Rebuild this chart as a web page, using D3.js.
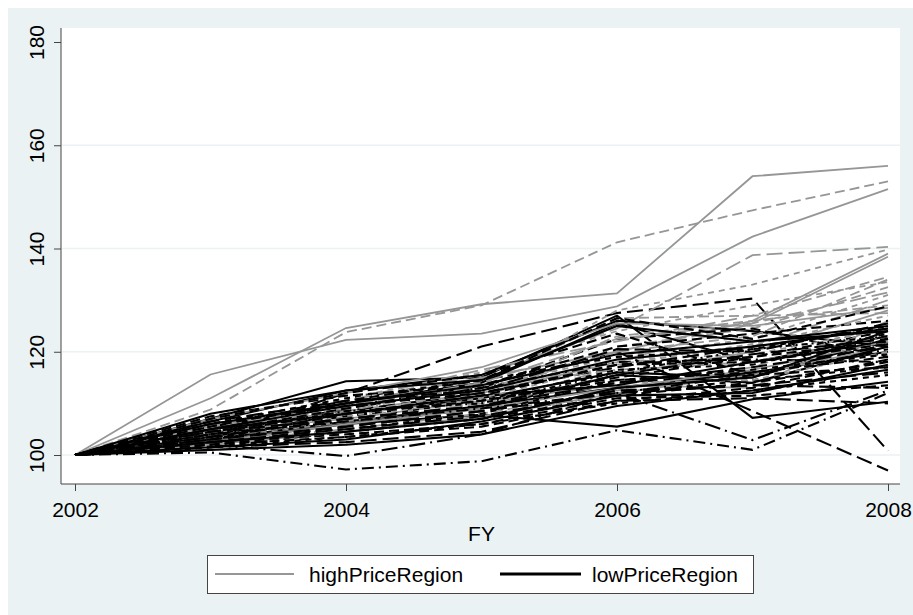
<!DOCTYPE html>
<html>
<head>
<meta charset="utf-8">
<script src="https://cdn.jsdelivr.net/npm/d3@7"></script>
<style>
  body { margin: 0; background: #fff; }
  text { font-family: "Liberation Sans", Arial, sans-serif; }
</style>
</head>
<body>
<div id="chart"></div>
<script>
const years = [2002, 2003, 2004, 2005, 2006, 2007, 2008];
const xTicks = [2002, 2004, 2006, 2008];
const yTicks = [100, 120, 140, 160, 180];
const groups = ["highPriceRegion", "lowPriceRegion"];

// index values per region (2002 = 100)
const highPriceRegion = [
  [100, 115.6, 122.3, 123.5, 128.8, 142.3, 151.5],
  [100, 111.0, 124.6, 129.2, 131.3, 154.0, 156.0],
  [100, 108.8, 123.8, 129.0, 141.2, 147.4, 153.0],
  [100, 106.5, 110.5, 115.5, 124.5, 138.7, 140.3],
  [100, 105.5, 109.5, 113.5, 128.0, 133.0, 139.8],
  [100, 106.0, 110.0, 115.0, 120.0, 126.0, 139.0],
  [100, 105.0, 108.5, 112.0, 118.0, 125.5, 138.4],
  [100, 104.5, 109.0, 114.0, 126.5, 127.0, 134.5],
  [100, 106.0, 111.0, 116.0, 124.0, 129.0, 133.5],
  [100, 104.0, 107.5, 111.5, 121.0, 124.5, 132.5],
  [100, 105.0, 109.0, 113.0, 119.0, 122.5, 131.0],
  [100, 103.5, 106.5, 110.0, 117.0, 121.0, 130.0],
  [100, 104.0, 108.0, 112.0, 123.0, 126.0, 129.0],
  [100, 103.0, 106.0, 109.5, 115.5, 120.0, 128.0],
  [100, 104.5, 107.0, 110.5, 113.5, 113.0, 126.0],
  [100, 102.5, 105.0, 108.0, 112.5, 117.0, 125.5],
  [100, 103.5, 107.5, 111.5, 118.5, 119.5, 124.5],
  [100, 105.5, 110.5, 116.5, 122.0, 127.0, 127.5],
  [100, 102.0, 104.5, 107.5, 112.0, 115.5, 121.0],
  [100, 104.0, 108.5, 113.5, 116.5, 118.0, 123.0],
  [100, 103.0, 106.5, 110.0, 114.0, 114.5, 120.0],
  [100, 107.0, 112.0, 117.0, 125.5, 125.0, 128.5],
  [100, 104.5, 108.0, 112.5, 120.0, 123.0, 134.0],
  [100, 103.0, 107.0, 111.0, 117.5, 121.5, 127.0],
  [100, 105.5, 109.5, 114.0, 122.5, 125.5, 131.5],
  [100, 102.5, 106.0, 109.0, 113.0, 116.5, 122.0]
];
const highPatterns = ["solid", "solid", "dash", "longdash", "shortdash", "solid", "solid", "dash",
  "shortdash", "dash", "shortdash", "longdash", "dash", "solid", "solid", "dash", "shortdash",
  "longdash", "solid", "dashdot", "shortdash", "solid", "dash", "shortdash", "longdash", "solid"];

const lowPriceRegion = [
  [100, 103.5, 112.0, 121.0, 127.5, 130.3, 100.8],
  [100, 107.0, 114.3, 115.0, 127.0, 107.2, 110.3],
  [100, 104.0, 109.0, 113.5, 120.0, 108.5, 97.0],
  [100, 100.5, 97.2, 98.8, 104.8, 101.0, 112.0],
  [100, 102.0, 99.8, 104.0, 112.0, 102.9, 112.5],
  [100, 103.0, 106.0, 107.8, 105.5, 110.8, 114.2],
  [100, 102.5, 104.0, 106.0, 111.0, 111.5, 113.5],
  [100, 101.5, 102.5, 104.5, 110.5, 111.0, 110.0],
  [100, 106.5, 112.5, 115.5, 126.0, 124.0, 121.0],
  [100, 105.0, 110.0, 114.0, 125.5, 118.0, 123.0],
  [100, 104.5, 109.0, 113.0, 122.5, 124.5, 119.0],
  [100, 103.5, 108.0, 111.0, 116.0, 115.0, 122.5],
  [100, 104.0, 107.5, 110.5, 115.0, 119.0, 124.0],
  [100, 102.0, 105.5, 108.5, 114.0, 115.5, 121.5],
  [100, 106.0, 111.0, 114.5, 119.0, 120.5, 125.0],
  [100, 103.0, 106.5, 109.5, 113.0, 116.0, 120.0],
  [100, 105.5, 109.5, 113.0, 118.0, 118.5, 118.0],
  [100, 101.5, 104.5, 107.5, 112.0, 114.5, 117.0],
  [100, 104.5, 108.5, 112.0, 117.0, 121.0, 124.5],
  [100, 102.5, 106.0, 109.0, 115.5, 114.0, 121.0],
  [100, 107.5, 111.5, 113.5, 121.0, 123.5, 126.0],
  [100, 103.0, 107.0, 110.5, 116.5, 117.5, 123.5],
  [100, 105.0, 108.0, 111.5, 113.5, 118.0, 122.0],
  [100, 102.0, 103.5, 105.5, 110.5, 113.0, 118.5],
  [100, 106.5, 110.5, 112.5, 120.5, 120.0, 125.5],
  [100, 104.0, 106.5, 109.0, 112.0, 115.5, 120.5],
  [100, 101.5, 103.0, 106.5, 111.5, 112.0, 117.5],
  [100, 105.5, 110.5, 114.5, 126.5, 122.5, 128.8],
  [100, 103.5, 105.0, 108.0, 114.5, 116.5, 119.5],
  [100, 104.5, 107.0, 109.5, 115.5, 119.5, 122.5],
  [100, 102.5, 104.5, 107.0, 113.0, 115.0, 124.0],
  [100, 106.0, 109.5, 112.0, 117.5, 118.0, 121.5],
  [100, 103.0, 105.5, 108.5, 112.0, 113.5, 113.0],
  [100, 107.0, 112.0, 115.5, 123.5, 115.5, 117.0],
  [100, 104.0, 108.5, 110.0, 116.0, 120.5, 123.0],
  [100, 101.0, 102.0, 104.0, 109.5, 112.5, 116.5],
  [100, 102.0, 104.5, 107.0, 111.5, 114.0, 118.0],
  [100, 103.5, 107.0, 109.5, 114.0, 117.0, 121.0],
  [100, 105.0, 109.5, 112.5, 118.5, 121.0, 124.5],
  [100, 101.5, 103.5, 106.0, 110.0, 112.5, 115.5],
  [100, 104.5, 108.0, 110.5, 114.5, 116.0, 119.0],
  [100, 106.0, 110.0, 113.5, 119.5, 122.0, 125.0],
  [100, 102.5, 105.0, 107.5, 112.5, 113.5, 116.0],
  [100, 103.0, 108.0, 111.5, 117.5, 119.0, 122.0],
  [100, 108.0, 112.5, 114.5, 125.0, 122.0, 124.0]
];
const lowPatterns = ["longdash", "solid", "longdash", "dashdot", "longdashdot", "solid", "dash",
  "longdash", "solid", "solid", "dash", "solid", "dash", "longdash", "shortdash", "solid", "dashdot",
  "shortdash", "longdash", "solid", "dash", "shortdash", "solid", "dash", "longdash", "dashdot",
  "solid", "dash", "shortdash", "longdash", "solid", "dash", "longdash", "dash", "shortdashdot",
  "solid", "dash", "longdash", "solid", "shortdash", "dash", "solid", "longdash", "dash", "solid"];

const dashes = {
  solid: null,
  dash: "10,5",
  longdash: "16,6",
  shortdash: "6,5",
  dashdot: "12,5,2,5",
  longdashdot: "16,5,2,5",
  shortdashdot: "6,4,2,4"
};

const W = 913, H = 615;
const plot = {left: 61, right: 900, top: 28, bottom: 484};
const grayCol = "#969696";

const svg = d3.select("#chart").append("svg")
    .attr("width", W)
    .attr("height", H);

svg.append("rect")
    .attr("x", 8).attr("y", 8)
    .attr("width", W - 8).attr("height", H - 8)
    .attr("fill", "#eaf2f3");

svg.append("rect")
    .attr("x", plot.left).attr("y", plot.top)
    .attr("width", plot.right - plot.left).attr("height", plot.bottom - plot.top)
    .attr("fill", "#fff");

const x = d3.scaleLinear().domain([2002, 2008]).range([75, 888]);
const y = d3.scaleLinear().domain([100, 180]).range([455, 42]);

// gridlines
svg.append("g")
    .selectAll("line")
    .data(yTicks.filter(d => d < 180))
    .enter()
    .append("line")
    .attr("x1", plot.left + 1).attr("x2", plot.right)
    .attr("y1", d => y(d)).attr("y2", d => y(d))
    .attr("stroke", "#eaf2f3")
    .attr("stroke-width", 1.5);

// series, interleaved so the colours mix like the original
const series = [];
const n = Math.max(highPriceRegion.length, lowPriceRegion.length);
for (let i = 0; i < n; i++) {
    if (i < highPriceRegion.length) series.push({group: 0, vals: highPriceRegion[i], pat: highPatterns[i]});
    if (i < lowPriceRegion.length) series.push({group: 1, vals: lowPriceRegion[i], pat: lowPatterns[i]});
}

const line = d3.line()
    .x((d, i) => x(years[i]))
    .y(d => y(d));

svg.append("g")
    .selectAll("path")
    .data(series)
    .enter()
    .append("path")
    .attr("d", d => line(d.vals))
    .attr("fill", "none")
    .attr("stroke", d => d.group === 0 ? grayCol : "#000")
    .attr("stroke-width", d => d.group === 0 ? 1.8 : 2.1)
    .attr("stroke-dasharray", d => dashes[d.pat]);

// y axis
const yAxis = svg.append("g")
    .attr("transform", `translate(${plot.left},0)`)
    .call(d3.axisLeft(y).tickValues(yTicks).tickSize(7).tickFormat(d3.format("d")));
yAxis.select(".domain").attr("d", `M0,${plot.top}V${plot.bottom}`).attr("stroke", "#444");
yAxis.selectAll(".tick line").attr("stroke", "#444");
yAxis.selectAll(".tick text")
    .attr("transform", "rotate(-90)")
    .attr("x", 0).attr("y", -17.5).attr("dy", null)
    .style("text-anchor", "middle")
    .attr("font-size", "21px")
    .attr("fill", "#000");

// x axis
const xAxis = svg.append("g")
    .attr("transform", `translate(0,${plot.bottom})`)
    .call(d3.axisBottom(x).tickValues(xTicks).tickSize(7).tickFormat(d3.format("d")));
xAxis.select(".domain").attr("d", `M${plot.left},0H${plot.right}`).attr("stroke", "#444");
xAxis.selectAll(".tick line").attr("stroke", "#444");
xAxis.selectAll(".tick text")
    .attr("y", 33).attr("dy", null)
    .attr("font-size", "21px")
    .attr("fill", "#000");

svg.append("text")
    .attr("x", x(2005)).attr("y", 541)
    .style("text-anchor", "middle")
    .attr("font-size", "21px")
    .text("FY");

// legend
const legend = svg.append("g");
legend.append("rect")
    .attr("x", 207.5).attr("y", 555.5)
    .attr("width", 546).attr("height", 38)
    .attr("fill", "#fff")
    .attr("stroke", "#444");

const legendItems = [
  {label: groups[0], col: grayCol, w: 2, x1: 215, x2: 294, tx: 309},
  {label: groups[1], col: "#000", w: 3, x1: 500, x2: 581, tx: 592}
];
legend.selectAll(".item")
    .data(legendItems)
    .enter()
    .append("line")
    .attr("x1", d => d.x1).attr("x2", d => d.x2)
    .attr("y1", 574).attr("y2", 574)
    .attr("stroke", d => d.col)
    .attr("stroke-width", d => d.w);
legend.selectAll(".lab")
    .data(legendItems)
    .enter()
    .append("text")
    .attr("x", d => d.tx).attr("y", 582)
    .attr("font-size", "21px")
    .text(d => d.label);
</script>
</body>
</html>
